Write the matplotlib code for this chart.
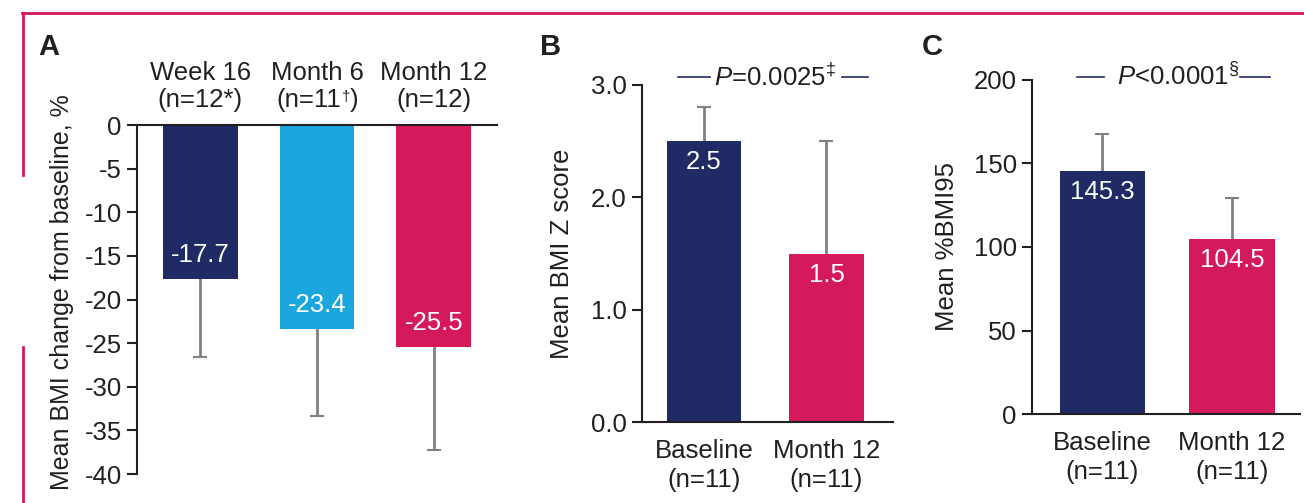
import matplotlib.pyplot as plt
from matplotlib.lines import Line2D

plt.rcParams['font.family'] = ['Liberation Sans', 'DejaVu Sans']
plt.rcParams['mathtext.fontset'] = 'custom'
plt.rcParams['mathtext.rm'] = 'Liberation Sans'
plt.rcParams['mathtext.it'] = 'Liberation Sans:italic'
plt.rcParams['mathtext.bf'] = 'Liberation Sans:bold'

# Panel A data
a_top1 = ['Week 16', 'Month 6', 'Month 12']
a_top2 = ['(n=12*)', '(n=11\u2020)', '(n=12)']
a_means = [-17.7, -23.4, -25.5]
a_err = [8.9, 10.0, 11.8]
a_ticks = [0, -5, -10, -15, -20, -25, -30, -35, -40]

# Panel B data
b_labels = ['Baseline\n(n=11)', 'Month 12\n(n=11)']
b_means = [2.5, 1.5]
b_err = [0.3, 1.0]
b_ticks = [0.0, 1.0, 2.0, 3.0]
b_pval = '$P$=0.0025$^{\\ddagger}$'

# Panel C data
c_labels = ['Baseline\n(n=11)', 'Month 12\n(n=11)']
c_means = [145.3, 104.5]
c_err = [22.5, 25.0]
c_ticks = [0, 50, 100, 150, 200]
c_pval = '$P$<0.0001$^{\\S}$'

NAVY = '#202A64'
LBLUE = '#1BA6DE'
CRIMSON = '#D41A5C'
GREY = '#808080'
INK = '#231F20'
FS = 18.5

W, H = 1304, 503
fig = plt.figure(figsize=(W / 100, H / 100), dpi=100)


def px_axes(x0, x1, ytop, ybot):
    return fig.add_axes([x0 / W, 1 - ybot / H, (x1 - x0) / W, (ybot - ytop) / H])


def style(ax):
    ax.spines['right'].set_visible(False)
    for s in ax.spines.values():
        s.set_linewidth(1.5)
        s.set_color(INK)
    ax.tick_params(axis='y', length=7, width=1.5, colors=INK, labelsize=FS, pad=4)
    ax.tick_params(axis='x', length=0, labelsize=FS, colors=INK)


# ---- Panel A ----
axA = px_axes(137, 497, 125, 474)
style(axA)
axA.spines['bottom'].set_visible(False)
xa = range(len(a_means))
axA.bar(xa, a_means, width=0.64, color=[NAVY, LBLUE, CRIMSON], zorder=2)
axA.errorbar(xa, a_means, yerr=a_err, fmt='none', ecolor=GREY,
             elinewidth=2, capsize=5, capthick=1.5, zorder=1)
axA.set_ylim(-40, 0)
axA.set_xlim(-0.54, 2.54)
axA.set_yticks(a_ticks)
axA.set_yticklabels([str(t) for t in a_ticks])
axA.set_xticks([])

# category labels above the bars (two lines on common baselines)
tr = axA.get_xaxis_transform()
y1 = 1 + (125 - 80) / 349
y2 = 1 + (125 - 107) / 349
for x, l1, l2 in zip(xa, a_top1, a_top2):
    axA.text(x, y1, l1, transform=tr, ha='center', va='baseline', fontsize=FS, color=INK)
    if '\u2020' in l2:
        # small raised dagger, drawn as its own text
        head, tail = l2.split('\u2020')
        left = axA.annotate(head, (x, y2), xycoords=tr, xytext=(24, 0),
                            textcoords='offset pixels', ha='right', va='baseline',
                            fontsize=FS, color=INK)
        axA.annotate('\u2020', (1, 0.9), xycoords=left, xytext=(1, 0),
                     textcoords='offset pixels', ha='left', va='top',
                     fontsize=11, color=INK)
        axA.annotate(tail, (1, 0), xycoords=left, xytext=(9, 0),
                     textcoords='offset pixels', ha='left', va='bottom',
                     fontsize=FS, color=INK)
    else:
        axA.text(x, y2, l2, transform=tr, ha='center', va='baseline', fontsize=FS, color=INK)

for x, v in zip(xa, a_means):
    axA.annotate(f'{v}', (x, v), xytext=(0, 24), textcoords='offset pixels',
                 ha='center', va='center', color='white', fontsize=FS, zorder=3)
axA.set_ylabel('Mean BMI change from baseline, %', fontsize=18, color=INK)
axA.yaxis.set_label_coords((74 - 137) / 360, 0.52)
fig.text(38 / W, 1 - 47 / H, 'A', fontsize=21, fontweight='bold', va='center', color=INK)


def two_bar(ax, means, err, labels, ticks, ylim, width, xlim, fmt, pval, pline, ylab, labx):
    style(ax)
    ax.spines['top'].set_visible(False)
    xs = range(len(means))
    ax.bar(xs, means, width=width, color=[NAVY, CRIMSON], zorder=2)
    ax.errorbar(xs, means, yerr=err, fmt='none', ecolor=GREY,
                elinewidth=2, capsize=5, capthick=1.5, zorder=1)
    ax.set_ylim(*ylim)
    ax.set_xlim(*xlim)
    ax.set_yticks(ticks)
    ax.set_yticklabels([fmt.format(t) for t in ticks])
    ax.set_xticks(list(xs))
    ax.set_xticklabels(labels, linespacing=1.3)
    ax.tick_params(axis='x', pad=12)
    for x, v in zip(xs, means):
        ax.annotate(f'{v}', (x, v), xytext=(0, -21), textcoords='offset pixels',
                    ha='center', va='center', color='white', fontsize=FS, zorder=3)
    ax.text(pline[3], pline[0], pval, ha='left', va='center', fontsize=FS, color=INK)
    ax.plot(pline[1], [pline[0]] * 2, color=NAVY, lw=1.2, clip_on=False)
    ax.plot(pline[2], [pline[0]] * 2, color=NAVY, lw=1.2, clip_on=False)
    ax.set_ylabel(ylab, fontsize=FS, color=INK)
    ax.yaxis.set_label_coords(labx, 0.5)


# ---- Panel B ----
axB = px_axes(642, 893, 85, 422)
two_bar(axB, b_means, b_err, b_labels, b_ticks, (0, 3), 0.61, (-0.506, 1.543), '{:.1f}',
        b_pval, (3.07, [-0.21, 0.05], [1.13, 1.34], 0.08), 'Mean BMI Z score',
        (574 - 642) / 251)
fig.text(540 / W, 1 - 47 / H, 'B', fontsize=21, fontweight='bold', va='center', color=INK)

# ---- Panel C ----
axC = px_axes(1032, 1300, 80, 414)
two_bar(axC, c_means, c_err, c_labels, c_ticks, (0, 200), 0.66, (-0.544, 1.525), '{:.0f}',
        c_pval, (202, [-0.2, 0.01], [1.06, 1.29], 0.11), 'Mean %BMI95',
        (959 - 1032) / 268)
fig.text(922 / W, 1 - 47 / H, 'C', fontsize=21, fontweight='bold', va='center', color=INK)

# pink frame
for xs_, ys_ in [([22, W], [13, 13]), ([23, 23], [13, 175]), ([23, 23], [347, H])]:
    fig.add_artist(Line2D([x / W for x in xs_], [1 - y / H for y in ys_],
                          color=CRIMSON, lw=2))

fig.savefig('out.png', dpi=100)
